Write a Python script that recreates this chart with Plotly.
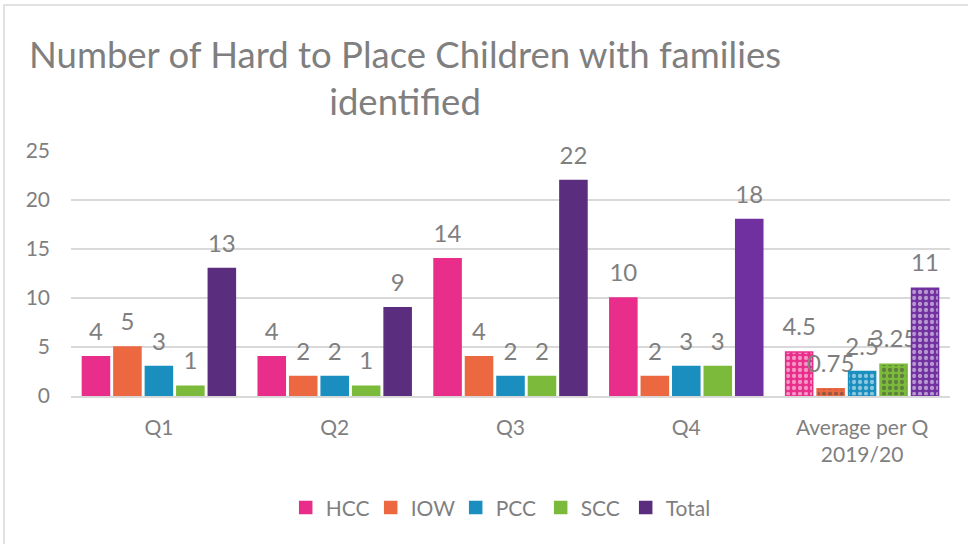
import plotly.graph_objects as go

categories = ["Q1", "Q2", "Q3", "Q4", "Average per Q<br>2019/20"]
series_names = ["HCC", "IOW", "PCC", "SCC", "Total"]
hcc = [4, 4, 14, 10, 4.5]
iow = [5, 2, 4, 2, 0.75]
pcc = [3, 2, 2, 3, 2.5]
scc = [1, 1, 2, 3, 3.25]
total = [13, 9, 22, 18, 11]
values = [hcc, iow, pcc, scc, total]

base_colors = ["#E92D8A", "#EB6841", "#1A8FBF", "#7BBA3A", "#7030A0"]
total_point_colors = ["#5B2D7E", "#5B2D7E", "#5B2D7E", "#7030A0", "#7030A0"]
patterns = ["", "", "", "", "."]

grey = "#7F7F7F"
font_family = "Lato, 'Open Sans', sans-serif"
label_lift = 0.9  # gap (in axis units) between bar top and its data label, as in the reference

fig = go.Figure()
for i, (name, vals, col) in enumerate(zip(series_names, values, base_colors)):
    colors = total_point_colors if name == "Total" else [col] * len(vals)
    fig.add_trace(go.Bar(
        name=name,
        x=categories,
        y=vals,
        offsetgroup=str(i),
        marker=dict(
            color=colors,
            line=dict(color=colors, width=1.5),
            pattern=dict(shape=patterns, fgcolor="white", fillmode="overlay",
                         size=6, solidity=0.4),
        ),
    ))
    # transparent spacer bar sitting on top of each bar, carrying the data label
    fig.add_trace(go.Bar(
        name=name,
        x=categories,
        y=[label_lift] * len(vals),
        base=vals,
        offsetgroup=str(i),
        showlegend=False,
        hoverinfo="skip",
        marker=dict(color="rgba(0,0,0,0)", line=dict(width=0)),
        text=[f"{v:g}" for v in vals],
        textposition="outside",
        constraintext="none",
        cliponaxis=False,
        textfont=dict(size=24, color=grey, family=font_family),
    ))

fig.update_layout(
    width=968, height=544,
    margin=dict(l=71, r=18, t=151, b=148, autoexpand=False),
    paper_bgcolor="white", plot_bgcolor="white",
    barmode="group", bargap=0.105, bargroupgap=0.14,
    font=dict(family=font_family, color=grey, size=20),
    showlegend=True,
    legend=dict(orientation="h", x=0.486, xanchor="center", y=-0.457, yanchor="middle",
                font=dict(size=21, color=grey, family=font_family),
                itemwidth=30, entrywidth=40, traceorder="normal"),
    xaxis=dict(showgrid=False, showline=True, linecolor="#D9D9D9", linewidth=1.5,
               ticks="", ticklabelstandoff=12, tickfont=dict(size=21, color=grey)),
    yaxis=dict(range=[0, 25], dtick=5, showgrid=True, gridcolor="#D9D9D9", gridwidth=1.5,
               zeroline=False, showline=False, ticks="", ticklabelstandoff=20,
               tickfont=dict(size=21, color=grey)),
    annotations=[dict(
        text="Number of Hard to Place Children with families<br>identified",
        xref="paper", yref="paper", x=0.38, y=1.298, xanchor="center", yanchor="middle",
        showarrow=False, font=dict(size=36.5, color=grey, family=font_family),
    )],
    shapes=[dict(type="rect", xref="paper", yref="paper",
                 x0=(4 - 71) / 879, x1=(975 - 71) / 879,
                 y0=(396 - 550) / 245, y1=(396 - 5) / 245,
                 line=dict(color="#D9D9D9", width=1.5), layer="below")],
)

fig.write_html("out.html", config={"displayModeBar": False},
               post_script="document.body.style.margin='0';document.body.style.overflow='hidden';")
